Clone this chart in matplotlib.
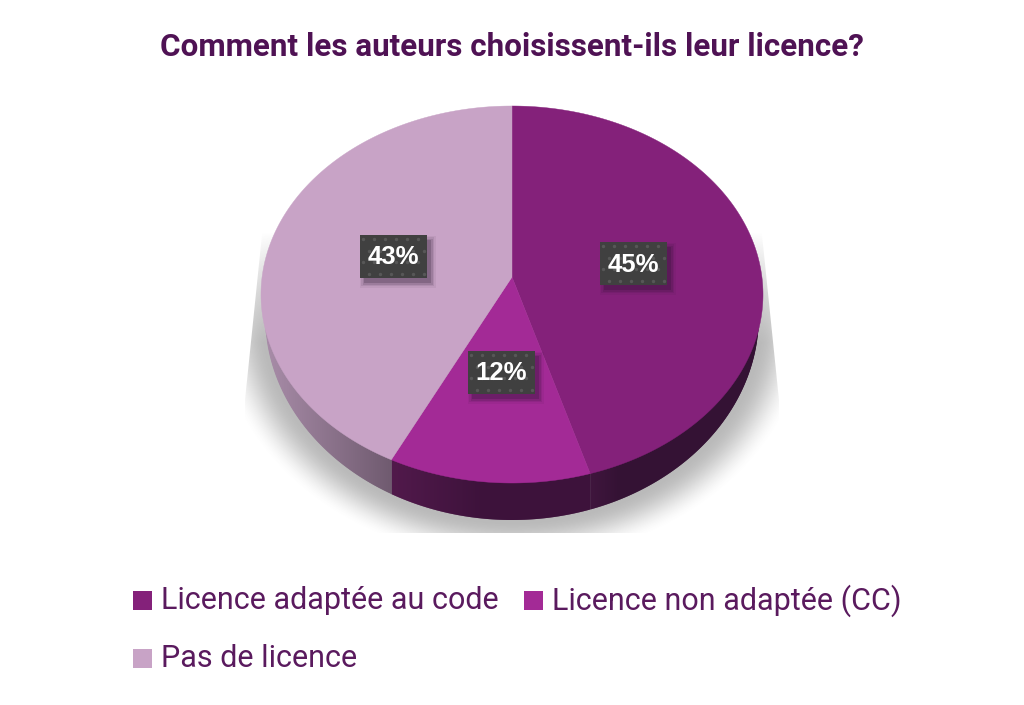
import numpy as np
import matplotlib
matplotlib.use("Agg")
import matplotlib.pyplot as plt
from matplotlib.patches import Polygon, Rectangle
from matplotlib.colors import to_rgb

title = "Comment les auteurs choisissent-ils leur licence?"
categories = ["Licence adaptée au code", "Licence non adaptée (CC)", "Pas de licence"]
values = [45.4, 11.9, 42.7]
colors = ["#84217A", "#A32A96", "#C8A3C6"]
side_left = ["#2F0C2F", "#3A0E38", "#6F5A6F"]
side_right = ["#3A0F38", "#4E1548", "#A88CA8"]
label_centers = [(633.5, 263.5), (501.5, 372.5), (393.5, 256.5)]
legend_pos = [(133, 600), (524, 600), (133, 658)]

TXT = "#5A1A5E"
CX, CY, RX, RY = 512.0, 294.5, 251.0, 188.5
BCY, BRX, BRY = 316.0, 247.0, 204.0
D = -0.0928

fig = plt.figure(figsize=(10.24, 7.05), dpi=100, facecolor="white")
ax = fig.add_axes([0, 0, 1, 1])
ax.axis("off")


def rim(frac):
    a = 2 * np.pi * np.asarray(frac)
    X, Y = np.sin(a), -np.cos(a)
    w = 1 + D * Y
    return CX + RX * X * np.sqrt(1 - D * D) / w, CY + RY * (Y + D) / w


def wall_y(x):
    top = CY + RY * np.sqrt(np.clip(1 - ((x - CX) / RX) ** 2, 0, 1))
    bot = BCY + BRY * np.sqrt(np.clip(1 - ((x - CX) / BRX) ** 2, 0, 1))
    return top - 1.5, np.maximum(bot, top - 1.5)


# soft shadow, cut off by its frame as in the reference
gx, gy = np.meshgrid(np.arange(240, 785), np.arange(225, 535))
dist = (np.hypot((gx - 512) / BRX, (gy - BCY) / BRY) - 1) * 205
alpha = np.clip(1 - dist / 42.0, 0, 1)
alpha = alpha * alpha * (3 - 2 * alpha) * 0.42
alpha *= np.clip((gy - 232) / 110.0, 0, 1) ** 0.8
img = np.ones(gx.shape + (4,))
img[..., :3] = 0.35
img[..., 3] = alpha
im = ax.imshow(img, extent=(240, 785, 535, 225), zorder=1, aspect="auto",
               interpolation="bilinear")
frame = Polygon([(263, 225), (761, 225), (779, 400), (779, 533), (245, 533), (245, 400)],
                transform=ax.transData, fc="none", ec="none")
ax.add_patch(frame)
im.set_clip_path(frame)
ax.set_xlim(0, 1024)
ax.set_ylim(705, 0)

edges = np.concatenate([[0], np.cumsum(values)]) / sum(values)

# side wall: vertical strips between the top rim and the lower outline
for i in range(len(values)):
    fr = np.linspace(edges[i], edges[i + 1], 400)
    x, y = rim(fr)
    front = x[y >= CY]
    if front.size < 2:
        continue
    x0, x1 = max(front.min(), CX - BRX), min(front.max(), CX + BRX)
    xs = np.arange(x0, x1 + 1.0, 1.0)
    c_l, c_r = np.array(to_rgb(side_left[i])), np.array(to_rgb(side_right[i]))
    for a in xs:
        b = min(a + 1.6, x1)
        ta, ba = wall_y(a)
        tb, bb = wall_y(b)
        t = (a - x0) / max(x1 - x0, 1)
        if i == 2:      # pale slice darkens towards the centre
            col = c_r + (c_l - c_r) * t
        elif i == 1:    # darkest around the middle of the arc
            col = c_r + (c_l - c_r) * min(t * 2.2, 1)
        else:
            col = c_r + (c_l - c_r) * min(t * 6, 1)
        ax.add_patch(Polygon([(a, ta), (b, tb), (b, bb), (a, ba)], fc=col, ec="none", zorder=2))

# top surface
apex = (CX, CY + RY * D)
for i, col in enumerate(colors):
    fr = np.linspace(edges[i], edges[i + 1], 240)
    x, y = rim(fr)
    ax.add_patch(Polygon(np.vstack([[apex], np.c_[x, y]]), fc=col, ec=col, lw=0.3, zorder=3))

# data labels
for v, (lx, ly) in zip(values, label_centers):
    w, h = 67, 43
    for k, a in zip([9, 6, 3, 0], [0.06, 0.09, 0.13, 0.2]):
        ax.add_patch(Rectangle((lx - w / 2 + 4 - k / 2, ly - h / 2 + 5 - k / 2), w + k, h + k,
                               fc="#201028", alpha=a, ec="none", zorder=4))
    ax.add_patch(Rectangle((lx - w / 2, ly - h / 2), w, h, fc="#404040", ec="none", zorder=5))
    for r, dy in enumerate(np.arange(4, h, 11.5)):
        ox = 3 + (r % 2) * 5.5
        dx = np.arange(ox, w - 1, 11)
        ax.scatter(lx - w / 2 + dx, np.full_like(dx, ly - h / 2 + dy), s=6, marker="o",
                   color="#575757", linewidths=0, zorder=6)
    ax.text(lx, ly + 1, f"{round(v)}%", color="white", fontsize=18.5, fontweight="bold",
            family="Liberation Sans", ha="center", va="center", zorder=7)

# title
ax.text(512, 47, title, color="#4F1254", fontsize=22.6, fontweight="bold",
        family="Roboto", ha="center", va="center", zorder=7)

# legend
for cat, col, (lx, ly) in zip(categories, colors, legend_pos):
    ax.add_patch(Rectangle((lx, ly - 9.5), 19, 19, fc=col, ec="none", zorder=7))
    ax.text(lx + 28, ly + 0.5, cat, color=TXT, fontsize=22, family="Roboto",
            ha="left", va="center", zorder=7)

fig.savefig("out.png", dpi=100)
